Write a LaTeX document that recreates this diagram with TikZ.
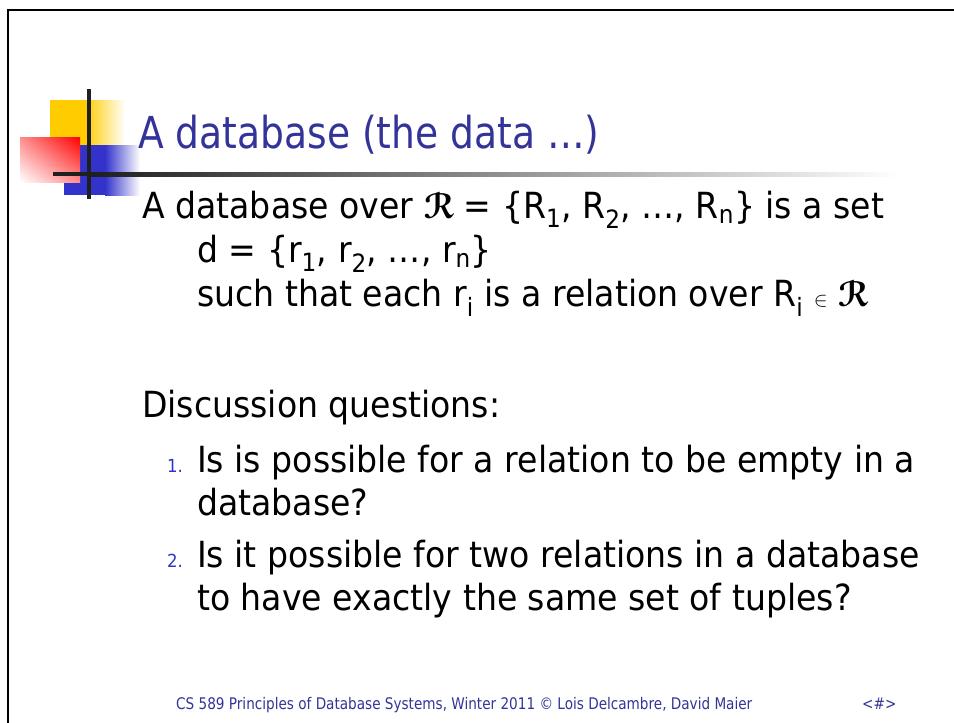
\documentclass[tikz,border=0pt]{standalone}
\usepackage{fontspec}
\setmainfont{DejaVu Sans}[FakeStretch=0.92]
\newfontfamily\titlefam{DejaVu Sans}[FakeStretch=0.855]
\newfontfamily\footfam{DejaVu Sans}[FakeStretch=0.85]
\usepackage{eucal}
\usepackage{bm}
\usetikzlibrary{shadings}
\definecolor{slideblue}{HTML}{333399}
\definecolor{numblue}{HTML}{3333CC}
\definecolor{sqyellow}{HTML}{FFCC00}
\definecolor{sqblue}{HTML}{3333CC}

\begin{document}
\begin{tikzpicture}[x=1pt, y=-1pt,
		txt/.style={anchor=base west, inner sep=0pt},
		body/.style={txt, font=\fontsize{36}{43}\selectfont},
		num/.style={txt, text=numblue, font=\fontsize{18}{20}\selectfont},
		foot/.style={txt, text=slideblue, font=\footfam\fontsize{16}{18}\selectfont}]
			\useasboundingbox (0,0) rectangle (954,723);
			
			\draw[line width=2pt] (8,723) -- (8,10) -- (954,10);
			
			\begin{scope}
			\fill[sqyellow] (50,100) rectangle (91,145);
			\shade[left color=sqyellow!85, right color=white] (91,100) rectangle (125,145);
			\fill[sqblue] (64,145) rectangle (105,195);
			\shade[left color=sqblue, right color=white] (105,145) rectangle (140,195);
			\shade[upper left=red!45, upper right=red, lower left=white, lower right=red!45] (20,137) rectangle (80,182);
			\fill[black!88] (87,89) rectangle (91,199);
			\fill[black!88] (53,172) rectangle (91,176);
			\shade[left color=black!88, middle color=black!50, right color=white] (91,172) rectangle (900,176);
			\end{scope}
			
			\node[txt, text=slideblue, font=\titlefam\fontsize{44}{50}\selectfont] (title) at (138,148) {A database (the data …)};
			
			\node[body] (over) at (142,218) {A database over $\bm{\mathcal{R}}$ = \{R\textsubscript{1}, R\textsubscript{2}, …, R\textsubscript{n}\} is a set};
			\node[body] (dset) at (197,262) {d = \{r\textsubscript{1}, r\textsubscript{2}, …, r\textsubscript{n}\}};
			\node[body] (such) at (197,306) {such that each r\textsubscript{i} is a relation over R\textsubscript{i} {\fontsize{22}{22}\selectfont$\in$} $\bm{\mathcal{R}}$};
			
			\node[body] (disc) at (142,417) {Discussion questions:};
			\node[num] (n1) at (167,472) {1.};
			\node[body] (q1a) at (197,472) {Is is possible for a relation to be empty in a};
			\node[body] (q1b) at (197,515) {database?};
			\node[num] (n2) at (167,567) {2.};
			\node[body] (q2a) at (197,567) {Is it possible for two relations in a database};
			\node[body] (q2b) at (197,610) {to have exactly the same set of tuples?};
			
			\node[foot] (foot) at (176,709) {CS 589 Principles of Database Systems, Winter 2011 © Lois Delcambre, David Maier};
			\node[foot] (page) at (862,709) {<\#>};
		\end{tikzpicture}
\end{document}
